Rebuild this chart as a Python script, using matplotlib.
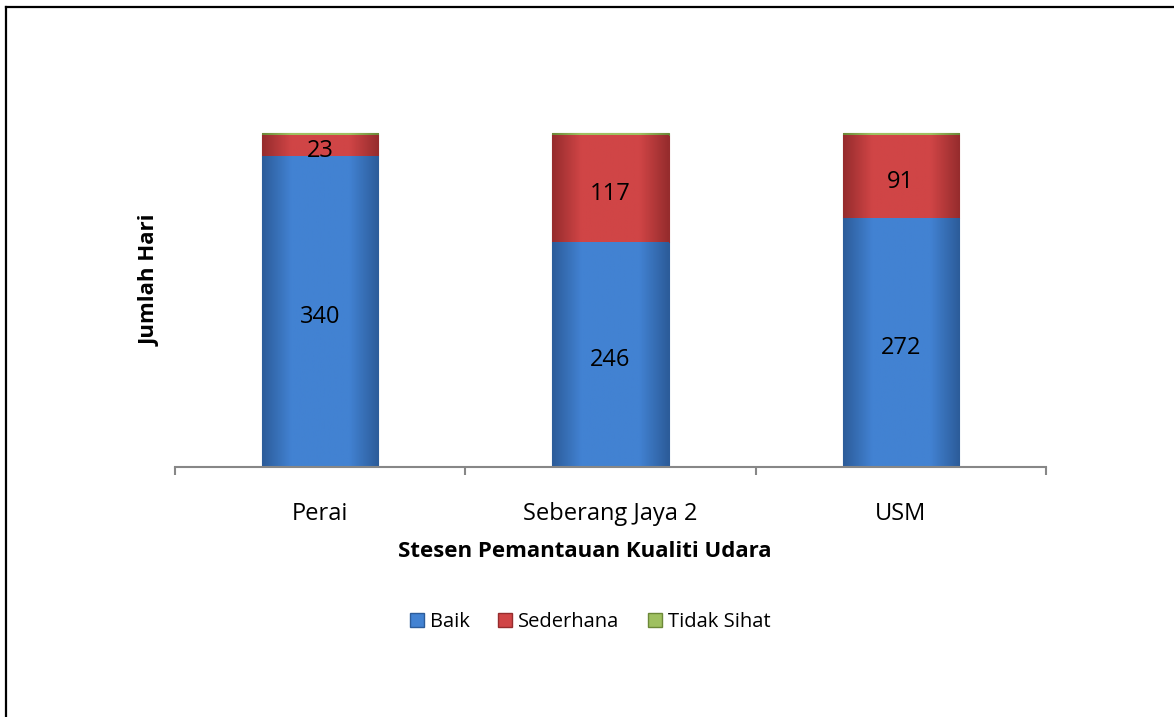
import numpy as np
import matplotlib.pyplot as plt
import matplotlib.transforms as mtransforms
from matplotlib.colors import LinearSegmentedColormap
from matplotlib.lines import Line2D
from matplotlib.patches import Patch

plt.rcParams['font.family'] = ['Open Sans', 'DejaVu Sans']

stations = ['Perai', 'Seberang Jaya 2', 'USM']
baik = [340, 246, 272]
sederhana = [23, 117, 91]
tidak_sihat = [2, 2, 2]
series_names = ['Baik', 'Sederhana', 'Tidak Sihat']

# (middle colour, edge colour) for the bevelled look
shades = [('#4282d2', '#2c5c9a'), ('#d04546', '#962c2d'), ('#9fc060', '#6c8838')]

fig = plt.figure(figsize=(11.74, 7.17), dpi=100)
ax = fig.add_axes([175/1174, 250/717, 871/1174, 366/717])

x = np.arange(len(stations))
width = 0.40


def shade(rect, c_mid, c_edge):
    x0, y0 = rect.get_x(), rect.get_y()
    w, h = rect.get_width(), rect.get_height()
    cmap = LinearSegmentedColormap.from_list('g', [c_edge, c_mid, c_mid, c_mid, c_edge])
    grad = np.linspace(0, 1, 200).reshape(1, -1)
    im = ax.imshow(grad, extent=[x0, x0 + w, y0, y0 + h], cmap=cmap,
                   aspect='auto', zorder=rect.get_zorder() + 0.1)
    im.set_clip_path(rect)


bottom = np.zeros(len(stations))
for vals, (cm, ce) in zip([baik, sederhana, tidak_sihat], shades):
    bars = ax.bar(x, vals, width, bottom=bottom, color=cm, edgecolor=ce,
                  linewidth=0.8, zorder=2)
    for b in bars:
        shade(b, cm, ce)
    bottom = bottom + np.array(vals)

# data labels, nudged a few pixels down like the original
lab_tr = mtransforms.offset_copy(ax.transData, fig=fig, y=-4, units='points')
for i in range(len(stations)):
    ax.text(x[i], baik[i] / 2, str(baik[i]), ha='center', va='center',
            fontsize=17, zorder=5, transform=lab_tr)
    ax.text(x[i], baik[i] + sederhana[i] / 2, str(sederhana[i]), ha='center',
            va='center', fontsize=17, zorder=5, transform=lab_tr)

ax.set_xlim(-0.5, 2.5)
ax.set_ylim(0, 400)
ax.set_yticks([])
for s in ['top', 'right', 'left']:
    ax.spines[s].set_visible(False)
ax.spines['bottom'].set_color('#878787')
ax.spines['bottom'].set_linewidth(1.5)

ax.set_xticks([-0.5, 0.5, 1.5, 2.5])
ax.set_xticklabels([])
ax.tick_params(axis='x', which='major', direction='out', length=6,
               width=1.5, color='#878787')
ax.set_xticks(x, minor=True)
ax.set_xticklabels(stations, minor=True, fontsize=17)
ax.tick_params(axis='x', which='minor', length=0, pad=25)

ax.set_xlabel('Stesen Pemantauan Kualiti Udara', fontsize=16, fontweight='bold')
ax.xaxis.set_label_coords(0.471, -0.23)
ax.xaxis.label.set_va('center')
ax.set_ylabel('Jumlah Hari', fontsize=16, fontweight='bold')
ax.yaxis.set_label_coords(-0.029, 0.51)
ax.yaxis.label.set_va('center')

handles = [Patch(facecolor=cm, edgecolor=ce) for cm, ce in shades]
fig.legend(handles, series_names, loc='center', ncol=3, frameon=False,
           bbox_to_anchor=(590/1174, 1 - 622/717), fontsize=14.5,
           handlelength=0.7, handleheight=0.7, handletextpad=0.3,
           columnspacing=1.4)

# outer frame (top and left edges visible)
fig.add_artist(Line2D([6/1174, 1], [1 - 7/717, 1 - 7/717], color='black',
                      lw=1.6, transform=fig.transFigure))
fig.add_artist(Line2D([6/1174, 6/1174], [0, 1 - 7/717], color='black',
                      lw=1.6, transform=fig.transFigure))

fig.savefig('out.png', dpi=100)
